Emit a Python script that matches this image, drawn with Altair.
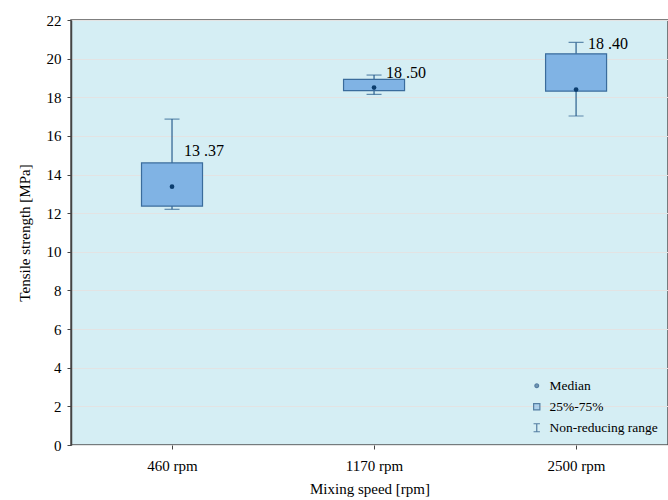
import altair as alt
import pandas as pd

speeds = ["460 rpm", "1170 rpm", "2500 rpm"]
median = [13.37, 18.50, 18.40]
q1 = [12.37, 18.34, 18.32]
q3 = [14.60, 18.93, 20.25]
wmin = [12.20, 18.15, 17.03]
wmax = [16.87, 19.15, 20.84]
label_text = ["13 .37", "18 .50", "18 .40"]
label_y = [15.2, 19.25, 20.75]
y_ticks = [0, 2, 4, 6, 8, 10, 12, 14, 16, 18, 20, 22]

legend_items = ["Median", "25%-75%", "Non-reducing range"]

FONT = "Liberation Serif"

df = pd.DataFrame({
    "idx": list(range(len(speeds))), "speed": speeds, "median": median,
    "q1": q1, "q3": q3, "wmin": wmin, "wmax": wmax,
    "label": label_text, "label_y": label_y,
})
leg = pd.DataFrame({"item": legend_items, "idx": [0, 1, 2], "v": [-50, -50, -50]})

label_expr = "[" + ",".join("'%s'" % s for s in speeds) + "][datum.value]"
xscale = alt.Scale(domain=[-0.5, 2.455], nice=False, zero=False, padding=0)
xaxis = alt.Axis(values=list(range(len(speeds))), labelExpr=label_expr,
                 domain=False, tickSize=4, tickColor="#444", labelPadding=9,
                 labelAngle=0, labelFont=FONT, labelFontSize=15, labelColor="black",
                 titleFont=FONT, titleFontSize=15, titleFontWeight="normal",
                 titleColor="black", titlePadding=8, grid=False)
yscale = alt.Scale(domain=[0, 22], nice=False, zero=True, padding=0)
yaxis = alt.Axis(values=y_ticks, tickSize=4, tickColor="#444",
                 domainColor="#444", domainWidth=1.5, labelPadding=6, labelOverlap=False,
                 labelFont=FONT, labelFontSize=15, labelColor="black",
                 titleFont=FONT, titleFontSize=15, titleFontWeight="normal",
                 titleColor="black", titlePadding=14,
                 grid=True, gridColor="#e3e3e3", gridWidth=1.2)
YT = "Tensile strength [MPa]"
XT = "Mixing speed [rpm]"


def X():
    return alt.X("idx:Q", scale=xscale, axis=xaxis, title=XT)


def Y(field):
    return alt.Y(field, scale=yscale, axis=yaxis, title=YT)


base = alt.Chart(df)

whisk = base.mark_rule(color="#2b5f8e", strokeWidth=1.2).encode(
    x=X(), y=Y("wmin:Q"), y2="wmax:Q")
box = base.mark_bar(size=61, fill="#80b3e4", stroke="#3a6c9c", strokeWidth=1.2).encode(
    x=X(), y=Y("q1:Q"), y2="q3:Q")
cap_lo = base.mark_tick(size=15, thickness=1.2, color="#2b5f8e", orient="horizontal").encode(
    x=X(), y=Y("wmin:Q"))
cap_hi = base.mark_tick(size=15, thickness=1.2, color="#2b5f8e", orient="horizontal").encode(
    x=X(), y=Y("wmax:Q"))
med = base.mark_point(filled=True, size=22, color="#0b3d6e", opacity=1).encode(
    x=X(), y=Y("median:Q"))
txt = base.mark_text(align="left", baseline="middle", dx=12, font=FONT, fontSize=16,
                     color="black").encode(x=X(), y=Y("label_y:Q"), text="label:N")

legend_layer = alt.Chart(leg).mark_point(filled=True, clip=True, strokeWidth=1.2,
                                         stroke="#1f4f80").encode(
    x=X(),
    y=Y("v:Q"),
    shape=alt.Shape("item:O", sort=legend_items,
                    scale=alt.Scale(domain=legend_items,
                                    range=["circle", "square",
                                           "M-0.8,-1H0.8M0,-1V1M-0.8,1H0.8"]),
                    legend=alt.Legend(title=None, orient="bottom-right", offset=10,
                                      labelFont=FONT, labelFontSize=13.5, labelColor="black",
                                      symbolStrokeColor="#1f4f80", symbolStrokeWidth=1.2,
                                      rowPadding=6, labelOffset=6)),
    fill=alt.Fill("item:O", sort=legend_items,
                  scale=alt.Scale(domain=legend_items,
                                  range=["#0b3d6e", "#80b3e4", "transparent"])),
    size=alt.Size("item:O", sort=legend_items,
                  scale=alt.Scale(domain=legend_items, range=[14, 64, 100])),
)

chart = alt.layer(whisk, box, cap_lo, cap_hi, med, txt, legend_layer).properties(
    width=597, height=425,
    autosize=alt.AutoSizeParams(type="none"),
    padding={"left": 71, "top": 20, "right": 0, "bottom": 55},
).configure_view(fill="#d5eef4", stroke="#555", strokeWidth=1.5
).configure_axis(labelFont=FONT, titleFont=FONT)

chart.save("out.html", embed_options={"renderer": "svg", "actions": False})
